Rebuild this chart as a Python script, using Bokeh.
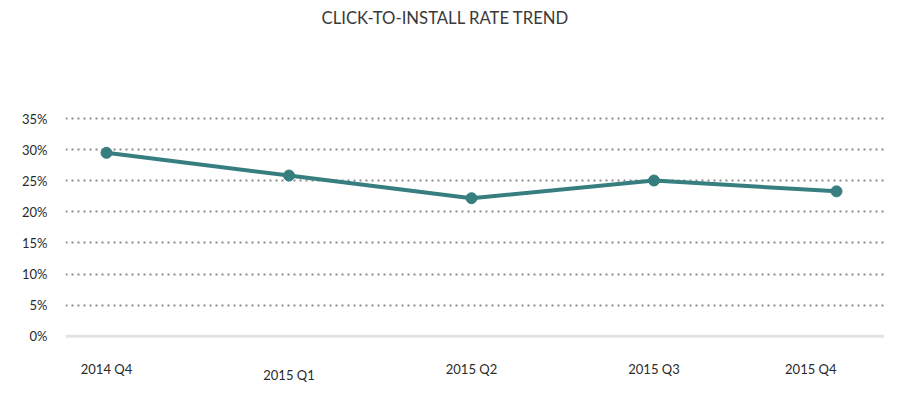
from bokeh.plotting import figure
from bokeh.models import ColumnDataSource, Range1d, FixedTicker, Span
from bokeh.core.properties import value
from bokeh.embed import file_html
from bokeh.resources import INLINE

# ---- data ----
categories = ["2014 Q4", "2015 Q1", "2015 Q2", "2015 Q3", "2015 Q4"]
rate = [29.5, 25.85, 22.2, 25.05, 23.3]
y_ticks = [0, 5, 10, 15, 20, 25, 30, 35]
y_tick_labels = ["0%", "5%", "10%", "15%", "20%", "25%", "30%", "35%"]
title_text = "CLICK-TO-INSTALL RATE TREND"

# ---- label layout (style only) ----
label_y_offset = [33, 39, 33, 33, 33]
label_align = ["center", "center", "center", "center", "right"]

idx = list(range(len(categories)))
src = ColumnDataSource(dict(x=idx, y=rate))
lab = ColumnDataSource(dict(x=idx, y=[0] * len(idx), text=categories,
                            yo=label_y_offset, al=label_align))

p = figure(width=898, height=390, output_backend="svg", toolbar_location=None,
           x_range=Range1d(-0.2247, 4.263), y_range=Range1d(-7.93, 36.47),
           min_border_left=65, min_border_right=14, min_border_top=105,
           min_border_bottom=5, outline_line_color=None,
           title=title_text + "\n \n \n ")

p.title.align = "left"
p.title.offset = 256
p.title.text_font = "Lato"
p.title.text_font_style = "normal"
p.title.text_font_size = "16.7px"
p.title.text_line_height = 1.28
p.title.text_color = "#3a3a3a"
p.title.standoff = 10

p.xaxis.visible = False
p.xgrid.visible = False

ax = p.yaxis[0]
ax.ticker = FixedTicker(ticks=y_ticks)
ax.major_label_overrides = {t: l for t, l in zip(y_ticks, y_tick_labels)}
ax.axis_line_color = None
ax.major_tick_line_color = None
ax.minor_tick_line_color = None
ax.major_label_standoff = 12
ax.major_label_text_font = "Lato"
ax.major_label_text_font_size = "13px"
ax.major_label_text_color = "#2a2a2a"

g = p.ygrid[0]
g.ticker = FixedTicker(ticks=y_ticks[1:])
g.grid_line_color = "#8a8a8a"
g.grid_line_width = 2
g.grid_line_dash = "2 4"

p.add_layout(Span(location=0, dimension="width", line_color="#e2e2de", line_width=3))

p.line("x", "y", source=src, line_color="#367e80", line_width=4)
p.scatter("x", "y", source=src, size=11, fill_color="#367e80", line_color="#367e80")

p.text("x", "y", text="text", source=lab, y_offset="yo", text_align="al",
       text_baseline="middle", text_font=value("Lato"), text_font_size="13px",
       text_color="#2a2a2a")

open("out.html", "w").write(file_html(p, INLINE))
